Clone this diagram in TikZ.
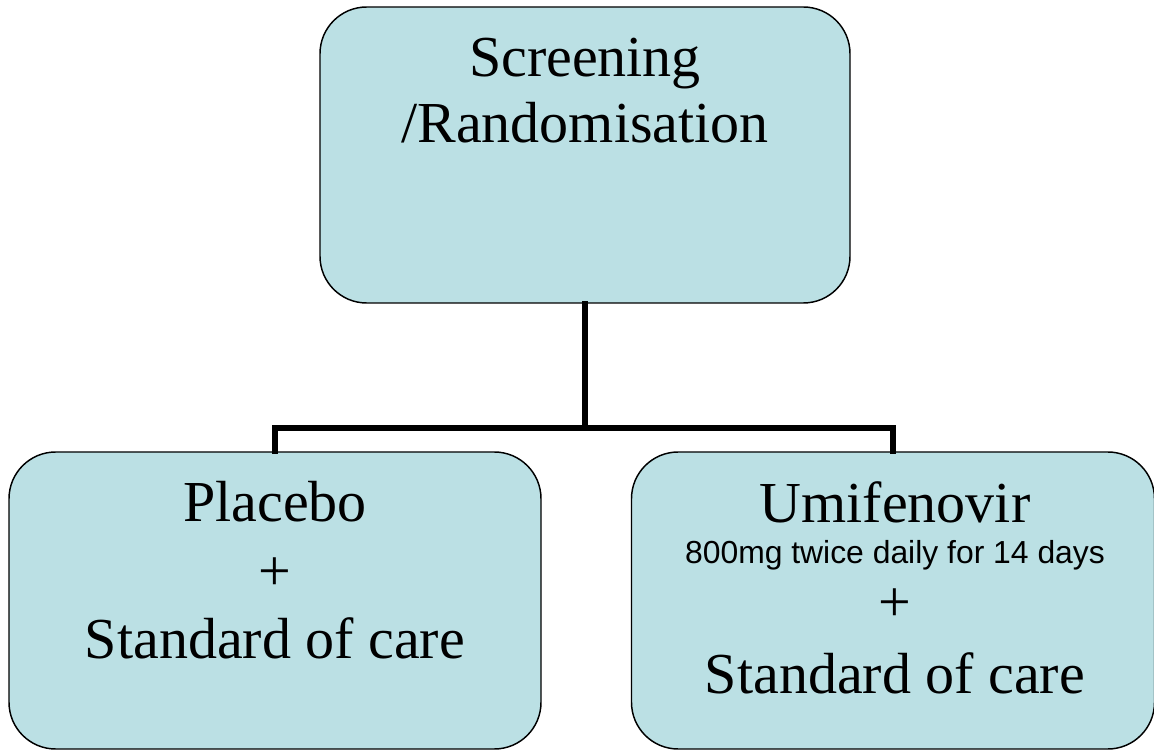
\documentclass[tikz,border=0pt]{standalone}
\usepackage{fontspec}
\setmainfont{Liberation Serif}
\newfontfamily\smallsans{Liberation Sans}
\definecolor{boxfill}{RGB}{187,224,228}
\begin{document}
\begin{tikzpicture}[x=0.75pt,y=-0.75pt,
  box/.style={draw=black,line width=1.1pt,fill=boxfill,rounded corners=35pt,inner sep=0pt},
  bigtxt/.style={anchor=base,inner sep=0pt,font=\fontsize{43.5pt}{51pt}\selectfont},
  smalltxt/.style={anchor=base,inner sep=0pt,font=\smallsans\fontsize{23.9pt}{28pt}\selectfont},
  link/.style={line width=3.8pt,line cap=rect}]
\useasboundingbox (0,0) rectangle (1154,755);
\node[box,minimum width=397.5pt,minimum height=222pt] (top) at (585,155) {};
\node[box,minimum width=399pt,minimum height=222.75pt] (left) at (275,600.5) {};
\node[box,minimum width=392.25pt,minimum height=222.75pt] (right) at (893,600.5) {};
\coordinate (junction) at (585,428);
\draw[link] (top.south) -- (junction);
\draw[link] (left.north) |- (junction) -| (right.north);
\node[bigtxt] (t1) at (585,77) {Screening};
\node[bigtxt] (t2) at (585,143) {/Randomisation};
\node[bigtxt] (l1) at (275,522) {Placebo};
\node[bigtxt] (l2) at (275,590) {+};
\node[bigtxt] (l3) at (275,658) {Standard of care};
\node[bigtxt] (r1) at (895,523) {Umifenovir};
\node[smalltxt] (r2) at (895,564) {800mg twice daily for 14 days};
\node[bigtxt] (r3) at (895,622) {+};
\node[bigtxt] (r4) at (895,693) {Standard of care};
\end{tikzpicture}
\end{document}
